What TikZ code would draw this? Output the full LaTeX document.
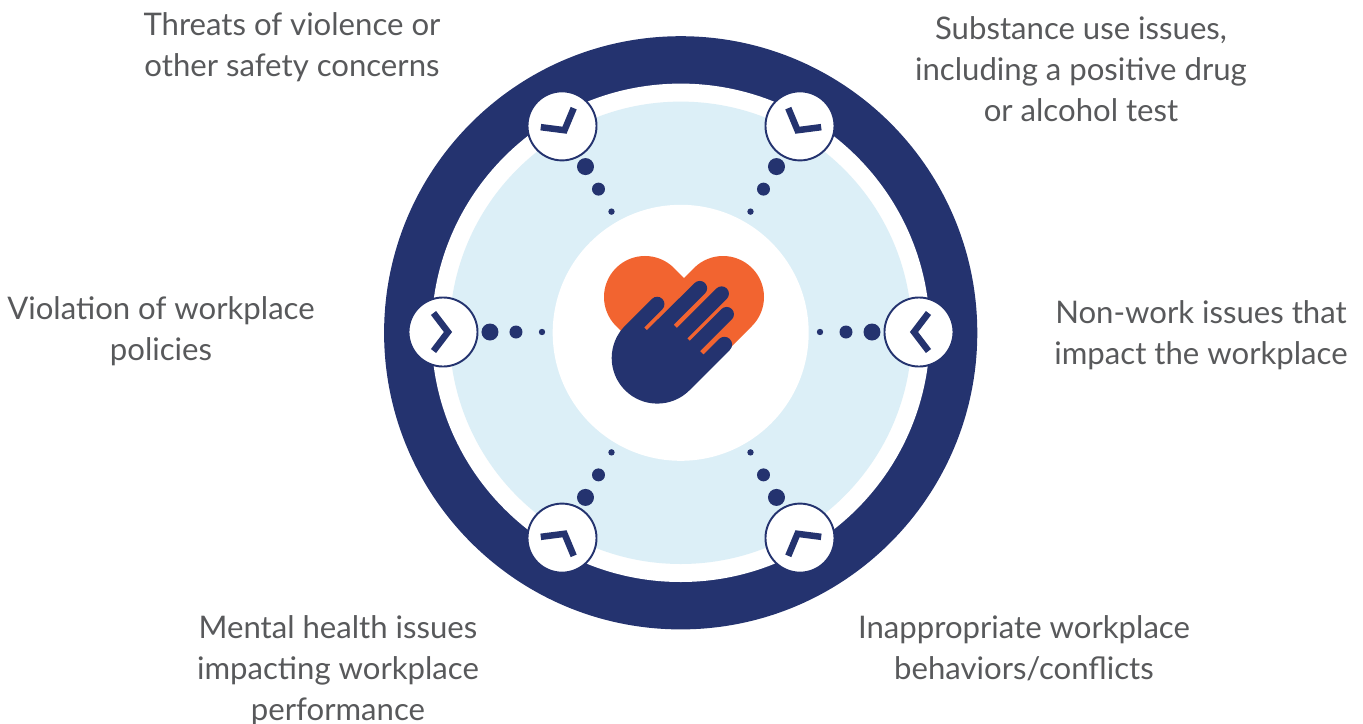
\documentclass[tikz,border=0pt]{standalone}
\usepackage{fontspec}
\setmainfont{Lato}
\definecolor{navyblue}{HTML}{24336F}
\definecolor{paleblue}{HTML}{DCEFF7}
\definecolor{heartorange}{HTML}{F26430}
\definecolor{labelgrey}{HTML}{58595B}
\tikzset{
	issuelabel/.style={text=labelgrey, align=center, inner sep=0pt, font=\fontsize{8.85pt}{11.66pt}\selectfont},
	iconring/.style={circle, draw=navyblue, fill=white, line width=0.55pt, minimum size=0.69cm, inner sep=0pt, outer sep=0pt},
	chevronline/.style={draw=navyblue, line width=1.85pt}
}
\begin{document}
\begin{tikzpicture}[x=0.01cm, y=0.01cm]
	\useasboundingbox (-681,332) rectangle (682,-392);
	\fill[navyblue] (-0.3,-0.8) circle (296.6);
	\fill[white] (-0.3,-0.8) circle (249.2);
	\fill[paleblue] (-0.3,-0.8) circle (231.2);
	\fill[white] (-0.3,-0.8) circle (128);
	\fill[heartorange] (3,-62) -- (71,6) arc (-45:135:41) -- (3,54) -- (-7,64) arc (45:225:41) -- cycle;
	\begin{scope}[shift={(-23.7,-26)}, rotate=45]
		\fill[navyblue] (0,45.6) -- (38,45.6) arc (90:-90:7.35) -- (12.3,30.9) -- (12.3,27) -- (79.4,26.6) arc (90:-90:7.35) -- (35,11.9) -- (35,7.3) -- (91,7.3) arc (90:-90:7.3) -- (35,-7.3) -- (35,-10.8) -- (80,-10.8) arc (90:-90:7.3) -- (35,-25.4) -- (35,-30.2) -- (57,-30.2) arc (90:-90:7.7) -- (0,-45.6) arc (-90:-270:45.6) -- cycle;
	\end{scope}
	\foreach \a in {0,60,120,180,240,300} {
		\fill[navyblue] (\a:191) circle (8.5);
		\fill[navyblue] (\a:165) circle (6.5);
		\fill[navyblue] (\a:139) circle (3.2);
		\node[iconring] (icon\a) at (\a:238) {};
		\begin{scope}[shift={(\a:238)}, rotate=\a+180]
			\draw[chevronline] (-9.5,19) -- (5,0) -- (-9.5,-19);
		\end{scope}
	}
	\node[issuelabel] (threats) at (-389,285) {Threats of violence or\\other safety concerns};
	\node[issuelabel] (substance) at (400,263) {Substance use issues,\\including a positive drug\\or alcohol test};
	\node[issuelabel] (violation) at (-520,1) {Violation of workplace\\policies};
	\node[issuelabel] (nonwork) at (520,-3) {Non-work issues that\\impact the workplace};
	\node[issuelabel] (mental) at (-343,-339) {Mental health issues\\impacting workplace\\performance};
	\node[issuelabel] (conduct) at (343,-316) {Inappropriate workplace\\behaviors/conflicts};
\end{tikzpicture}
\end{document}
